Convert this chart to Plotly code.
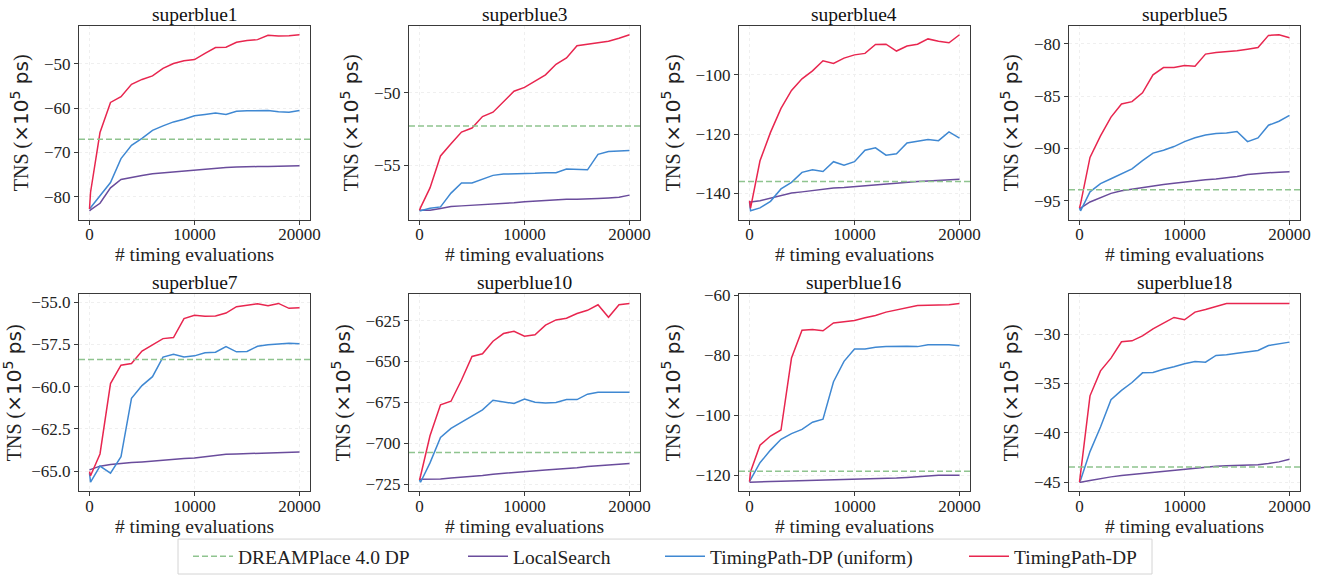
import plotly.graph_objects as go

# x positions of the timing evaluation checkpoints
evals = [0, 100] + list(range(1000, 20001, 1000))

designs = ['superblue1', 'superblue3', 'superblue4', 'superblue5',
           'superblue7', 'superblue10', 'superblue16', 'superblue18']

# DREAMPlace 4.0 DP baseline (horizontal)
dreamplace = [-67.05, -52.29, -136.0, -93.96, -58.39, -705.7, -118.75, -43.45]

local_search = {
    'superblue1': [-83.2, -83.0, -81.5, -78.0, -76.1, -75.6, -75.2, -74.8, -74.6, -74.4, -74.2,
                   -73.9, -73.7, -73.5, -73.4, -73.3, -73.2, -73.2, -73.2, -73.1, -73.1, -73.0],
    'superblue3': [-58.08, -58.08, -58.08, -57.96, -57.83, -57.78, -57.74, -57.7, -57.67, -57.65, -57.56,
                   -57.49, -57.44, -57.4, -57.35, -57.33, -57.33, -57.33, -57.28, -57.24, -57.19, -57.04],
    'superblue4': [-142.9, -142.9, -142.5, -141.6, -140.7, -139.9, -139.5, -139.0, -138.6, -138.2, -138.0,
                   -137.7, -137.4, -137.0, -136.7, -136.5, -136.3, -136.0, -135.8, -135.6, -135.4, -135.2],
    'superblue5': [-95.78, -95.7, -95.12, -94.68, -94.3, -94.06, -93.9, -93.74, -93.59, -93.46, -93.34,
                   -93.2, -93.08, -92.99, -92.93, -92.83, -92.68, -92.49, -92.39, -92.33, -92.27, -92.24],
    'superblue7': [-64.92, -64.9, -64.7, -64.61, -64.53, -64.49, -64.45, -64.39, -64.33, -64.29, -64.25,
                   -64.22, -64.14, -64.06, -64.0, -63.98, -63.96, -63.94, -63.92, -63.9, -63.88, -63.86],
    'superblue10': [-722.0, -722.0, -722.0, -721.8, -721.3, -720.9, -720.3, -719.7, -718.9, -718.3, -717.7,
                    -717.1, -716.7, -716.3, -715.9, -715.5, -714.9, -714.2, -713.6, -713.2, -712.8, -712.4],
    'superblue16': [-122.4, -122.4, -122.3, -122.2, -122.1, -122.0, -121.9, -121.8, -121.7, -121.6, -121.5,
                    -121.5, -121.4, -121.4, -121.2, -121.0, -120.8, -120.5, -120.2, -120.1, -120.1, -120.1],
    'superblue18': [-45.0, -45.0, -44.83, -44.63, -44.46, -44.32, -44.22, -44.09, -43.99, -43.89, -43.82,
                    -43.72, -43.58, -43.45, -43.38, -43.34, -43.31, -43.28, -43.24, -43.11, -42.94, -42.67],
}

uniform_dp = {
    'superblue1': [-82.8, -82.5, -80.0, -76.8, -71.4, -68.4, -66.8, -65.0, -64.0, -63.1, -62.5,
                   -61.7, -61.4, -61.1, -61.4, -60.7, -60.6, -60.6, -60.55, -60.8, -60.9, -60.5],
    'superblue3': [-58.12, -58.12, -57.94, -57.85, -56.9, -56.2, -56.2, -55.93, -55.68, -55.59, -55.59,
                   -55.57, -55.54, -55.5, -55.5, -55.25, -55.3, -55.3, -54.23, -54.03, -54.0, -53.96],
    'superblue4': [-142.9, -145.9, -144.9, -142.7, -138.5, -136.3, -132.9, -132.0, -132.6, -129.3, -130.5,
                   -129.3, -125.4, -124.6, -127.1, -126.6, -123.0, -122.5, -121.8, -122.2, -119.2, -121.3],
    'superblue5': [-95.7, -95.97, -94.15, -93.37, -92.9, -92.43, -91.95, -91.17, -90.45, -90.17, -89.82,
                   -89.35, -88.97, -88.72, -88.57, -88.53, -88.38, -89.35, -89.0, -87.78, -87.4, -86.84],
    'superblue7': [-65.12, -65.65, -64.7, -65.12, -64.14, -60.69, -59.94, -59.41, -58.25, -58.08, -58.25,
                   -58.18, -58.0, -57.96, -57.63, -57.94, -57.92, -57.61, -57.53, -57.47, -57.43, -57.47],
    'superblue10': [-722.4, -723.8, -712.0, -696.4, -690.9, -687.1, -683.2, -679.6, -673.7, -674.5, -675.7,
                    -672.9, -674.9, -675.3, -675.1, -673.3, -673.3, -670.0, -668.8, -668.8, -668.8, -668.8],
    'superblue16': [-122.2, -121.5, -115.9, -111.7, -108.1, -106.2, -104.8, -102.4, -101.4, -88.9, -82.1,
                    -78.0, -78.0, -77.4, -77.2, -77.1, -77.1, -77.2, -76.6, -76.6, -76.6, -76.9],
    'superblue18': [-45.0, -44.8, -41.9, -39.4, -36.65, -35.7, -34.9, -33.92, -33.89, -33.55, -33.31,
                    -33.0, -32.77, -32.84, -32.16, -32.09, -31.93, -31.76, -31.66, -31.15, -30.98, -30.81],
}

timingpath_dp = {
    'superblue1': [-82.8, -79.0, -65.5, -58.7, -57.4, -54.6, -53.5, -52.7, -51.0, -49.9, -49.3,
                   -49.0, -47.6, -46.3, -46.2, -45.1, -44.7, -44.5, -43.5, -43.7, -43.6, -43.4],
    'superblue3': [-58.08, -57.9, -56.54, -54.34, -53.5, -52.7, -52.42, -51.63, -51.33, -50.6, -49.89,
                   -49.62, -49.2, -48.76, -48.03, -47.6, -46.76, -46.67, -46.58, -46.45, -46.24, -46.0],
    'superblue4': [-142.5, -145.0, -129.0, -119.4, -111.3, -105.2, -101.3, -98.6, -95.2, -96.1, -94.3,
                   -93.2, -92.7, -89.7, -89.6, -91.9, -90.2, -89.6, -87.8, -88.6, -89.1, -86.4],
    'superblue5': [-95.7, -95.3, -90.86, -88.8, -87.0, -85.74, -85.52, -84.68, -82.95, -82.26, -82.26,
                   -82.07, -82.13, -80.97, -80.82, -80.75, -80.66, -80.5, -80.35, -79.18, -79.12, -79.4],
    'superblue7': [-65.02, -65.27, -63.98, -59.82, -58.73, -58.63, -57.9, -57.55, -57.16, -57.1, -55.98,
                   -55.78, -55.84, -55.82, -55.65, -55.27, -55.18, -55.1, -55.22, -55.08, -55.37, -55.33],
    'superblue10': [-722.4, -720.0, -695.4, -676.5, -674.3, -661.3, -646.9, -645.3, -637.6, -632.9, -631.5,
                    -634.5, -633.7, -627.8, -624.6, -623.6, -620.7, -618.7, -615.3, -623.0, -615.3, -614.5],
    'superblue16': [-122.2, -118.9, -110.1, -107.0, -105.0, -81.0, -71.75, -71.5, -71.9, -69.3, -68.9,
                    -68.5, -67.6, -66.8, -65.7, -64.9, -64.1, -63.5, -63.4, -63.3, -63.2, -62.8],
    'superblue18': [-45.0, -44.1, -36.25, -33.72, -32.43, -30.78, -30.68, -30.17, -29.46, -28.89, -28.31,
                    -28.55, -27.77, -27.5, -27.23, -26.89, -26.89, -26.89, -26.89, -26.89, -26.89, -26.89],
}

ytick_step = [10, 5, 20, 5, 2.5, 25, 20, 5]
x_ticks = [0, 10000, 20000]

W, H = 1338, 576
FONT = 'Liberation Serif'
AXIS_COLOR = '#3a3a3a'
colors = {
    'dream': '#8fc48f',
    'local': '#6a4c9c',
    'uniform': '#3f88d2',
    'tp': '#e8264f',
}

# plot-area geometry in pixels (left, top, bottom) for each panel
col_left = [79, 409, 739, 1069]
row_top = [26, 295]
row_bottom = [220, 492]
panel_w = 231


def px_x(p):
    return p / W


def px_y(p):
    return 1 - p / H


fig = go.Figure()
annotations = []
shapes = []
layout_axes = {}

for i, name in enumerate(designs):
    r, c = divmod(i, 4)
    ax = '' if i == 0 else str(i + 1)
    xref, yref = 'x' + ax, 'y' + ax

    x0 = px_x(col_left[c])
    x1 = px_x(col_left[c] + panel_w)
    y1 = px_y(row_top[r])
    y0 = px_y(row_bottom[r])

    all_vals = local_search[name] + uniform_dp[name] + timingpath_dp[name] + [dreamplace[i]]
    lo, hi = min(all_vals), max(all_vals)
    pad = 0.05 * (hi - lo)
    xpad = 0.05 * (max(evals) - min(evals))

    first = i == 0
    fig.add_trace(go.Scatter(
        x=[None], y=[None], mode='lines', name='DREAMPlace 4.0 DP',
        line=dict(color=colors['dream'], width=1.5, dash='6px,3px'),
        showlegend=first, legend='legend', xaxis=xref, yaxis=yref, hoverinfo='skip'))
    shapes.append(dict(
        type='line', xref=xref + ' domain', yref=yref, x0=0, x1=1,
        y0=dreamplace[i], y1=dreamplace[i],
        line=dict(color=colors['dream'], width=1.5, dash='6px,3px')))

    fig.add_trace(go.Scatter(
        x=evals, y=local_search[name], mode='lines', name='LocalSearch',
        line=dict(color=colors['local'], width=1.5),
        showlegend=first, legend='legend2', xaxis=xref, yaxis=yref))
    fig.add_trace(go.Scatter(
        x=evals, y=uniform_dp[name], mode='lines', name='TimingPath-DP (uniform)',
        line=dict(color=colors['uniform'], width=1.5),
        showlegend=first, legend='legend3', xaxis=xref, yaxis=yref))
    fig.add_trace(go.Scatter(
        x=evals, y=timingpath_dp[name], mode='lines', name='TimingPath-DP',
        line=dict(color=colors['tp'], width=1.5),
        showlegend=first, legend='legend4', xaxis=xref, yaxis=yref))

    common = dict(
        showline=True, mirror=True, linecolor=AXIS_COLOR, linewidth=1.2,
        ticks='outside', ticklen=4, tickwidth=1, tickcolor=AXIS_COLOR,
        showgrid=True, gridcolor='#efefef', gridwidth=0.7, griddash='dot',
        zeroline=False, automargin=False,
        tickfont=dict(family=FONT, size=17, color='#222222'),
    )
    layout_axes['xaxis' + ax] = dict(
        common, domain=[x0, x1], anchor=yref,
        range=[min(evals) - xpad, max(evals) + xpad],
        tickvals=x_ticks, tickformat='d', ticklabelstandoff=-5,
        title=dict(text='# timing evaluations', standoff=0,
                   font=dict(family=FONT, size=19.5, color='#222222')),
    )
    layout_axes['yaxis' + ax] = dict(
        common, domain=[y0, y1], anchor=xref,
        range=[lo - pad, hi + pad], dtick=ytick_step[i],
        tickformat='.1f' if ytick_step[i] == 2.5 else 'd',
        title=dict(text="TNS (<span style='font-family:DejaVu Sans'>×10<sup>5</sup> ps</span>)",
                   standoff=9, font=dict(family=FONT, size=20, color='#222222')),
    )
    annotations.append(dict(
        text=name, xref='paper', yref='paper', x=(x0 + x1) / 2, y=y1,
        xanchor='center', yanchor='bottom', yshift=0, borderpad=0, showarrow=False,
        font=dict(family=FONT, size=19.5, color='#111111')))

# legend frame spanning the bottom
shapes.append(dict(type='rect', xref='paper', yref='paper',
                   x0=px_x(178), x1=px_x(1152), y0=px_y(575), y1=px_y(540),
                   line=dict(color='#d4d4d4', width=1), fillcolor='rgba(255,255,255,0)'))

legend_font = dict(family=FONT, size=19.5, color='#222222')
legend_y = px_y(557)
legend_text_x = [237, 512, 709, 1013]  # where each legend label starts
legends = {}
for k, tx in enumerate(legend_text_x):
    key = 'legend' if k == 0 else 'legend' + str(k + 1)
    legends[key] = dict(x=(tx - 49) / W, y=legend_y, xanchor='left', yanchor='middle',
                        orientation='h', font=legend_font, bgcolor='rgba(0,0,0,0)',
                        borderwidth=0, itemwidth=40)

fig.update_layout(
    width=W, height=H,
    margin=dict(l=0, r=0, t=0, b=0),
    paper_bgcolor='white', plot_bgcolor='white',
    font=dict(family=FONT, color='#222222'),
    annotations=annotations, shapes=shapes,
    **layout_axes, **legends,
)

# drop the default body margin so the figure sits at the page origin
fig.write_html("out.html", config={'displayModeBar': False},
               post_script="document.body.style.margin='0';")
